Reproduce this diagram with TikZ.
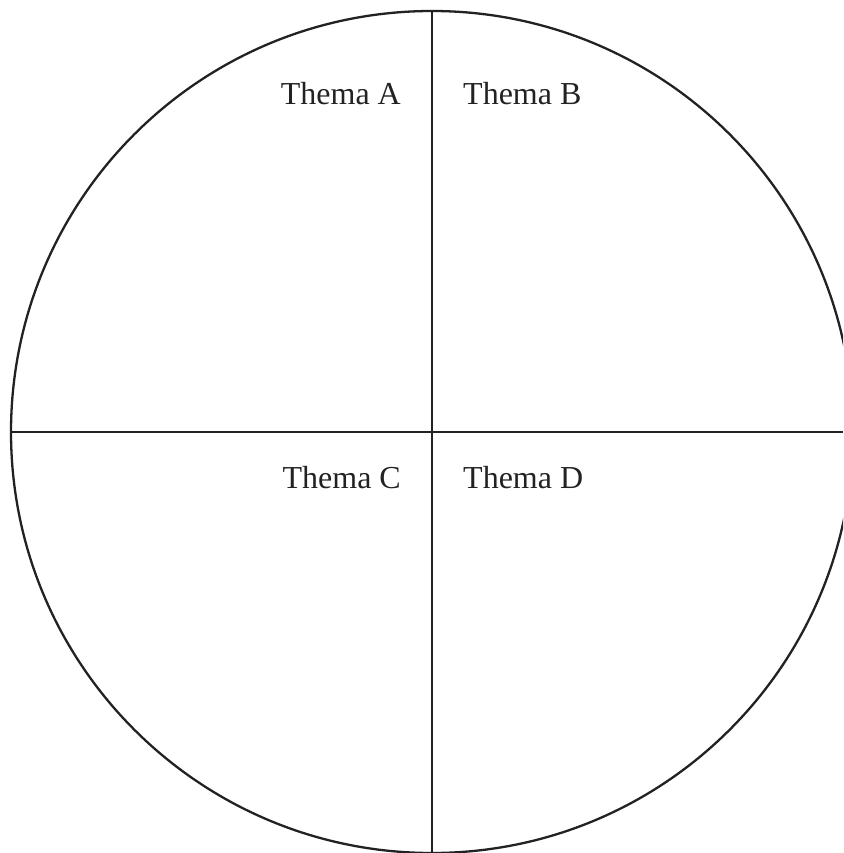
\documentclass[tikz,border=0pt]{standalone}
\usepackage{fontspec}
\setmainfont{Liberation Serif}
\definecolor{ink}{HTML}{222222}
\begin{document}
\begin{tikzpicture}[x=1pt,y=-1pt,
  stroke/.style={draw=ink,line width=2.3pt},
  label/.style={text=ink,font=\fontsize{32}{37}\selectfont,inner sep=0pt}]
\useasboundingbox (0,0) rectangle (843,853);
\clip (0,0) rectangle (843,853);
\coordinate (c) at (432,432);
\draw[stroke] (c) circle[radius=421];
\coordinate (top) at (432,11);
\coordinate (bot) at (432,853);
\coordinate (lft) at (11,432);
\coordinate (rgt) at (843,432);
\draw[stroke] (top) -- (bot);
\draw[stroke] (lft) -- (rgt);
\node[label,anchor=base east] (a) at (401,105) {Thema A};
\node[label,anchor=base west] (b) at (463,105) {Thema B};
\node[label,anchor=base east] (cc) at (401,488) {Thema C};
\node[label,anchor=base west] (d) at (463,488) {Thema D};
\end{tikzpicture}
\end{document}
